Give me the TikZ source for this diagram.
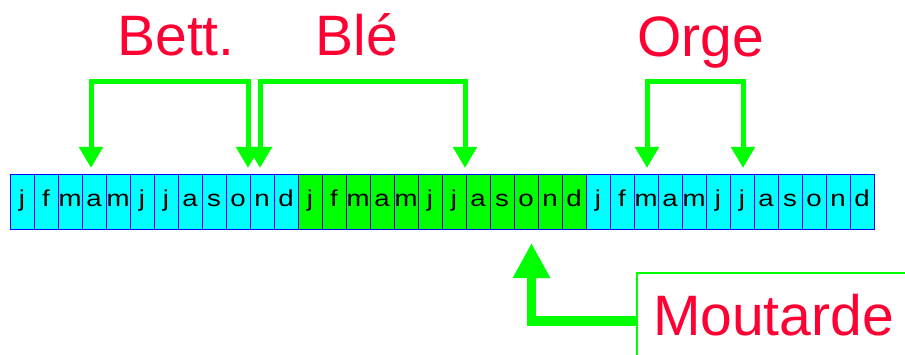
\documentclass[tikz,border=0pt]{standalone}
\usepackage{fontspec}
\setmainfont{Liberation Sans}
\newfontfamily\monthfont[FakeStretch=1.2]{Liberation Sans}
\usepackage{xcolor}
\usepackage{tikz}
\usetikzlibrary{positioning, arrows.meta}

\definecolor{cellcyan}{RGB}{0,255,255}
\definecolor{cellgreen}{RGB}{0,255,0}
\definecolor{labelred}{RGB}{255,0,51}

\begin{document}
\begin{tikzpicture}[
    x=1pt, y=1pt,
    month_box/.style={draw=blue, line width=0.8pt, minimum width=24pt, minimum height=55pt, inner sep=0pt, outer sep=0pt, text height=10.4pt, text depth=0pt, font=\monthfont\fontsize{23}{28}\selectfont},
    crop_arrow/.style={draw=cellgreen, line width=5pt, {Triangle[width=23pt,length=21pt]}-{Triangle[width=23pt,length=21pt]}},
    big_arrow/.style={draw=cellgreen, line width=9.5pt, -{Triangle[width=35pt,length=35pt]}},
    crop_label/.style={anchor=base, text=labelred, font=\fontsize{57}{68}\selectfont}
]
\useasboundingbox (0,0) rectangle (905,354);

% Months
\foreach \yr/\col in {0/cellcyan, 1/cellgreen, 2/cellcyan}{
  \foreach \m [count=\k from 0] in {j,f,m,a,m,j,j,a,s,o,n,d}{
    \pgfmathtruncatemacro{\idx}{12*\yr+\k}
    \node[month_box, fill=\col] (c\idx) at (22+24*\idx, 152.5) {\m};
  }
}

% Labels
\node[crop_label] (bett) at (176,298) {Bett.};
\node[crop_label] (ble) at (357,298) {Blé};
\node[crop_label] (orge) at (701,297) {Orge};

\node[draw=cellgreen, line width=2pt, outer sep=0pt, anchor=north west, text width=300pt, align=left,
      inner xsep=16pt, inner ysep=0pt, text height=62pt, text depth=34pt,
      text=labelred, font=\fontsize{57}{68}\selectfont] (moutarde) at (637,81) {Moutarde};

% Crop periods
\draw[crop_arrow] ([shift={(-3pt,6pt)}]c3.north) -- ++(0,86pt) -| ([shift={(-2pt,6pt)}]c9.north east);
\draw[crop_arrow] ([shift={(-2pt,6pt)}]c10.north) -- ++(0,86pt) -| ([shift={(-1pt,6pt)}]c18.north east);
\draw[crop_arrow] ([shift={(1pt,6pt)}]c26.north) -- ++(0,86pt) -| ([shift={(1pt,6pt)}]c30.north);

\draw[big_arrow] (moutarde.west) -| ([shift={(5.5pt,-14pt)}]c21.south);

\end{tikzpicture}
\end{document}
